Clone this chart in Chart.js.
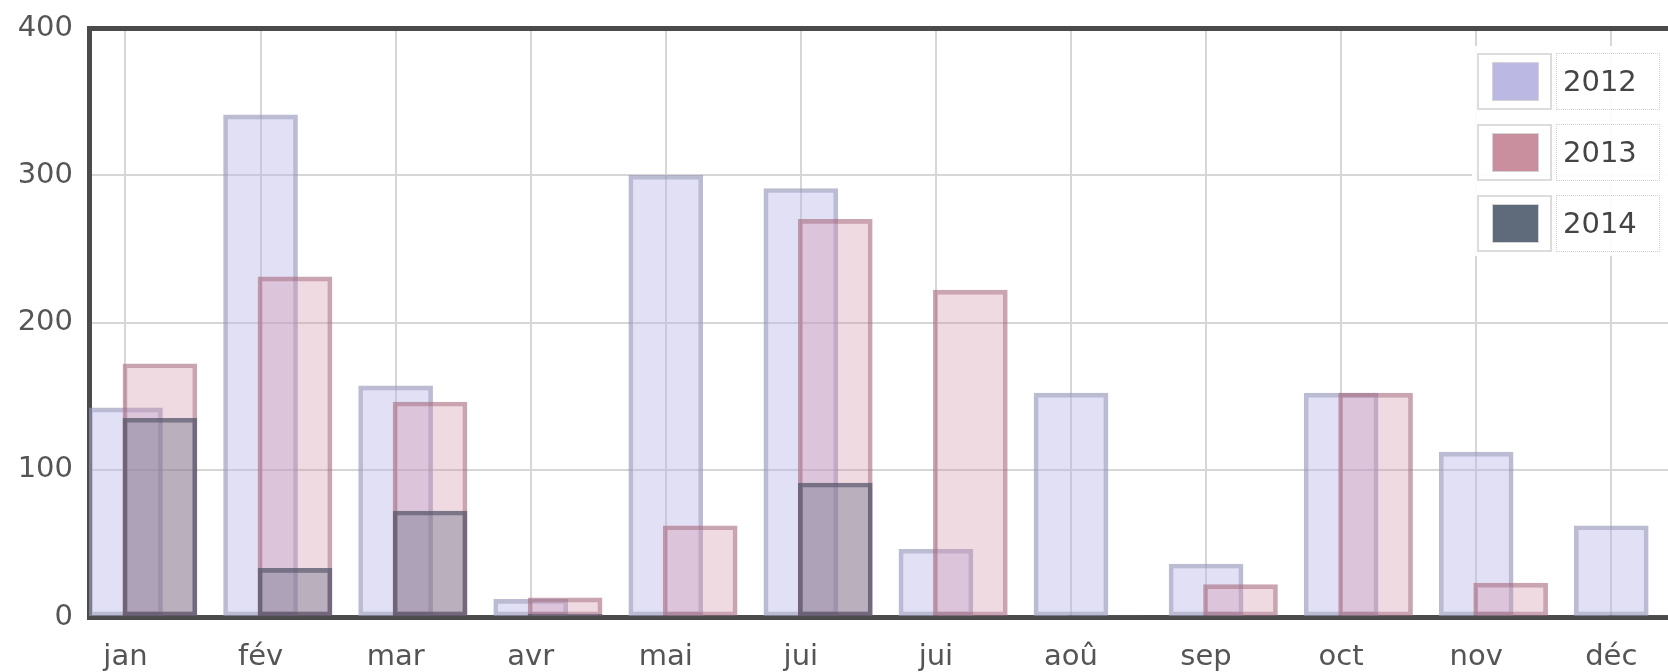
<!DOCTYPE html>
<html>
<head>
<meta charset="utf-8">
<script src="https://cdn.jsdelivr.net/npm/chart.js@4.4.1/dist/chart.umd.min.js"></script>
<style>
html, body { margin: 0; padding: 0; background: #fff; }
#wrap { position: relative; width: 1668px; height: 672px; overflow: hidden; }
canvas { display: block; }
#legend { position: absolute; left: 1472px; top: 46px; width: 196px; height: 210px; background: rgba(255,255,255,0.92); }
.row { position: absolute; left: 5px; width: 191px; height: 57px; }
.sw { position: absolute; left: 0; top: 0; width: 71px; height: 53px; border: 2px solid #dcdcdc; }
.sw div { position: absolute; left: 13px; top: 7px; width: 45px; height: 37px; border: 1px solid #d4d4d4; }
.lb { position: absolute; left: 79px; top: 0; width: 96px; height: 55px; border: 1px dotted #cfcfcf;
      font: 29px 'DejaVu Sans', sans-serif; color: #444; line-height: 55px; padding-left: 6px; }
</style>
</head>
<body>
<div id="wrap">
  <canvas id="chart" width="1668" height="672"></canvas>
  <div id="legend"></div>
</div>
<script>
// data
const months = ['jan', 'fév', 'mar', 'avr', 'mai', 'jui', 'jui', 'aoû', 'sep', 'oct', 'nov', 'déc'];
const years = ['2012', '2013', '2014'];
const v2012 = [142, 341, 157, 12, 300, 291, 46, 152, 36, 152, 112, 62];
const v2013 = [172, 231, 146, 13, 62, 270, 222, 0, 22, 152, 23, 0];
const v2014 = [135, 33, 72, 2, 1, 91, 1, 1, 1, 1, 1, 1];
const yTicks = [0, 100, 200, 300, 400];

// styling
const barShift = 0.255;   // 2013/2014 bars sit half a bar to the right
const fills = ['rgba(185,182,230,0.42)', 'rgba(205,140,165,0.32)', 'rgba(100,104,125,0.38)'];
const borders = ['rgba(150,150,185,0.65)', 'rgba(165,105,125,0.6)', 'rgba(85,85,105,0.75)'];
const legendColors = ['#bcb8e4', '#c98f9e', '#5f6a7b'];
const axisColor = '#4b4b4b';
const gridColor = '#d6d6d6';
const tickFont = { family: "'DejaVu Sans', sans-serif", size: 29 };

function points(vals, shift) {
    return vals.map((v, i) => ({ x: i + shift, y: v }));
}

const series = [v2012, v2013, v2014];
const datasets = series.map((vals, k) => ({
    label: years[k],
    data: points(vals, k === 0 ? 0 : barShift),
    backgroundColor: fills[k],
    borderColor: borders[k],
    borderWidth: 4,
    borderSkipped: false,
    barThickness: 74,
    grouped: false,
    order: 2 - k
}));

const xMin = -0.27, xMax = 11.42;

new Chart(document.getElementById('chart'), {
    type: 'bar',
    data: { datasets: datasets },
    options: {
        responsive: false,
        animation: false,
        devicePixelRatio: 1,
        layout: { padding: 0 },
        plugins: { legend: { display: false }, tooltip: { enabled: false } },
        scales: {
            x: {
                type: 'linear',
                offset: false,
                min: xMin,
                max: xMax,
                afterBuildTicks: s => { s.ticks = months.map((m, i) => ({ value: i })); },
                afterFit: s => { s.height = 55; },
                ticks: {
                    callback: v => months[v],
                    font: tickFont,
                    color: '#555',
                    padding: 23,
                    autoSkip: false,
                    maxRotation: 0
                },
                grid: { color: gridColor, lineWidth: 2, drawTicks: false, offset: false },
                border: { color: axisColor, width: 5 }
            },
            xTop: {
                type: 'linear',
                position: 'top',
                offset: false,
                min: xMin,
                max: xMax,
                afterFit: s => { s.height = 28; },
                ticks: { display: false },
                grid: { display: false },
                border: { color: axisColor, width: 5 }
            },
            y: {
                min: 0,
                max: 400,
                afterBuildTicks: s => { s.ticks = yTicks.map(v => ({ value: v })); },
                afterFit: s => { s.width = 89; s.paddingTop = 0; s.paddingBottom = 0; },
                ticks: { font: tickFont, color: '#555', padding: 16 },
                grid: { color: gridColor, lineWidth: 2, drawTicks: false },
                border: { color: axisColor, width: 5 }
            }
        }
    }
});

// flot-style legend box
const legend = document.getElementById('legend');
years.forEach((y, k) => {
    const row = document.createElement('div');
    row.className = 'row';
    row.style.top = (7 + k * 71) + 'px';
    row.innerHTML = '<div class="sw"><div style="background:' + legendColors[k] + '"></div></div>' +
                    '<div class="lb">' + y + '</div>';
    legend.appendChild(row);
});
</script>
</body>
</html>
